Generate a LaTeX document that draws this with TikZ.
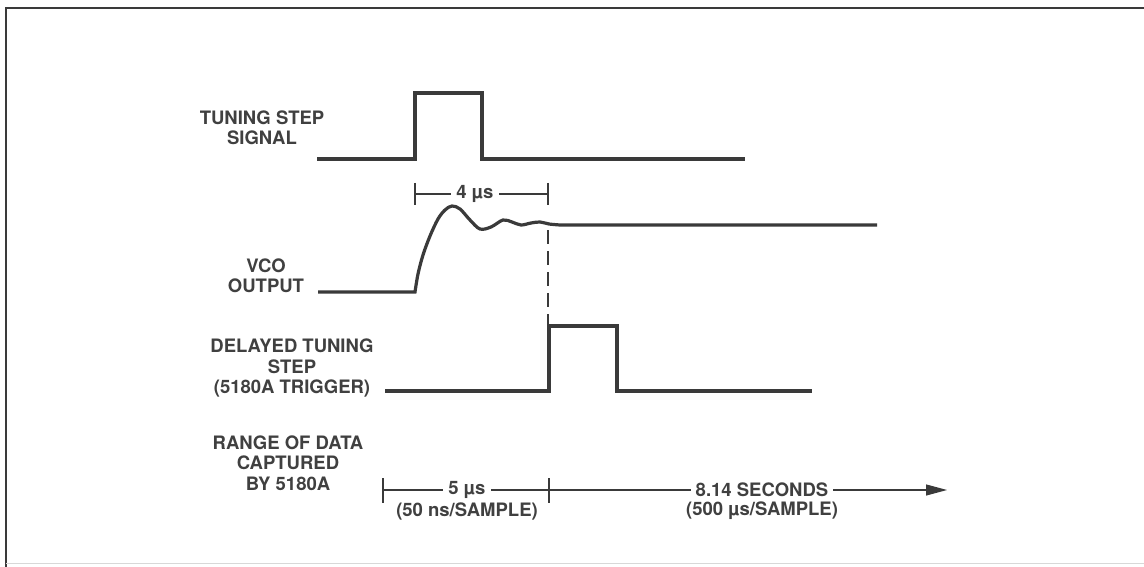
\documentclass[tikz,border=0pt]{standalone}
\usepackage{fontspec}
\setmainfont{TeX Gyre Heros}
\usetikzlibrary{arrows.meta}
\definecolor{ink}{HTML}{3A3A3A}
\definecolor{txt}{HTML}{404040}
\definecolor{faint}{HTML}{D8D8D8}
\begin{document}
\begin{tikzpicture}[x=1pt,y=-1pt,
  sig/.style={draw=ink,line width=3.2pt,line join=miter},
  dim/.style={draw=ink,line width=1.1pt},
  tick/.style={draw=ink,line width=1.1pt},
  dashv/.style={draw=ink,line width=1.1pt,dash pattern=on 14pt off 7pt},
  lbl/.style={text=txt,font=\fontsize{18.5}{20.5}\selectfont\bfseries,align=center,inner sep=0pt},
  dimlbl/.style={text=txt,font=\fontsize{18.5}{20.5}\selectfont\bfseries,fill=white,inner xsep=5pt,inner ysep=1pt},
  sublbl/.style={text=txt,font=\fontsize{18.5}{20.5}\selectfont\bfseries,inner sep=0pt}]
\useasboundingbox (0,0) rectangle (1144,567);
\fill[white] (0,0) rectangle (1144,567);
% frame
\coordinate (fTL) at (6,8);
\coordinate (fTR) at (1144,8);
\coordinate (fBL) at (6,567);
\coordinate (fBR) at (1144,563);
\draw[ink,line width=2pt] (fTR) -- (fTL) -- (fBL);
\draw[faint,line width=1pt] (6,563) -- (fBR);

% labels
\node[lbl] (lTS) at (262,128) {TUNING STEP\\SIGNAL};
\node[lbl] (lVCO) at (266,276) {VCO\\OUTPUT};
\node[lbl] (lDT) at (292,368) {DELAYED TUNING\\STEP\\(5180A TRIGGER)};
\node[lbl] (lRD) at (288,463) {RANGE OF DATA\\CAPTURED\\BY 5180A};

% tuning step signal
\coordinate (tsA) at (317,159);
\coordinate (tsB) at (415,159);
\coordinate (tsC) at (415,93);
\coordinate (tsD) at (482,93);
\coordinate (tsE) at (482,159);
\coordinate (tsF) at (745,159);
\draw[sig] (tsA) -- (tsB) -- (tsC) -- (tsD) -- (tsE) -- (tsF);

% 4 us dimension
\coordinate (d4L) at (415,194);
\coordinate (d4R) at (548,194);
\draw[dim] (d4L) -- (d4R);
\draw[tick] (415,183) -- (415,205);
\draw[tick] (548,183) -- (548,205);
\node[dimlbl] (t4) at (475,194) {4 µs};

% VCO output
\coordinate (vA) at (318,292);
\coordinate (vB) at (415,292);
\coordinate (vC) at (560,225);
\coordinate (vD) at (877,225);
\draw[sig,line cap=butt] (vA) -- (vB) -- plot[smooth,tension=0.55] coordinates {
  (415,292) (418,274) (423,255) (430,236) (438,219) (445,210) (452,206)
  (460,209) (470,220) (480,229) (491,227) (503,220) (512,222) (521,225)
  (531,223) (540,222) (549,224) (560,225)} -- (vD);

% dashed marker
\coordinate (dsT) at (548,230);
\coordinate (dsB) at (548,324);
\draw[dashv] (dsT) -- (dsB);

% delayed tuning step
\coordinate (dtA) at (385,391);
\coordinate (dtB) at (549,391);
\coordinate (dtC) at (549,326);
\coordinate (dtD) at (617,326);
\coordinate (dtE) at (617,391);
\coordinate (dtF) at (812,391);
\draw[sig] (dtA) -- (dtB) -- (dtC) -- (dtD) -- (dtE) -- (dtF);

% range dimension
\coordinate (r1) at (383,490);
\coordinate (r2) at (549,490);
\coordinate (r3) at (947,490);
\draw[tick] (383,478) -- (383,503);
\draw[tick] (549,478) -- (549,503);
\draw[dim] (r1) -- (r2);
\draw[dim,-{Triangle[length=21pt,width=11pt]}] (r2) -- (r3);
\node[dimlbl] (t5) at (467,490) {5 µs};
\node[sublbl] (t5s) at (467,511) {(50 ns/SAMPLE)};
\node[dimlbl] (t8) at (762,490) {8.14 SECONDS};
\node[sublbl] (t8s) at (762,511) {(500 µs/SAMPLE)};
\end{tikzpicture}
\end{document}
